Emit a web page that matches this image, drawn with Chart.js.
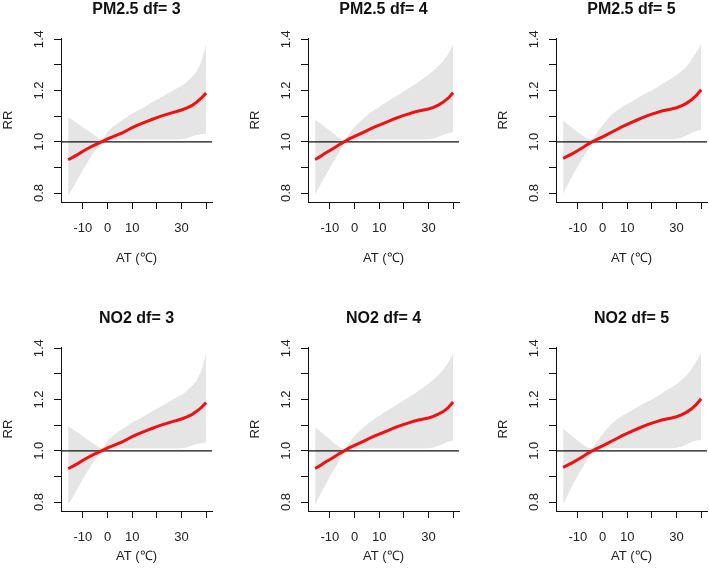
<!DOCTYPE html>
<html><head><meta charset="utf-8">
<script src="https://cdn.jsdelivr.net/npm/chart.js@4/dist/chart.umd.min.js"></script>
<style>
html,body{margin:0;padding:0;background:#fff;overflow:hidden;width:709px;height:577px;}
#wrap{position:relative;width:709px;height:577px;overflow:hidden;background:#fff;}
canvas{position:absolute;}
</style></head><body><div id="wrap"></div>
<script>
// ---- data ----
const temps = [-16,-14,-12,-10,-8,-6,-4,-2,0,2,4,6,8,10,12,14,16,18,20,22,24,26,28,30,32,34,36,38,40];

const pm25Df3RR = [0.930,0.940,0.951,0.963,0.974,0.984,0.993,1.002,1.011,1.019,1.027,1.035,1.045,1.055,1.064,1.072,1.080,1.087,1.094,1.101,1.107,1.113,1.118,1.124,1.131,1.140,1.153,1.170,1.190];
const pm25Df3Hi = [1.096,1.083,1.070,1.057,1.043,1.030,1.017,1.008,1.040,1.058,1.072,1.085,1.098,1.110,1.120,1.131,1.142,1.153,1.164,1.175,1.186,1.197,1.208,1.218,1.232,1.250,1.272,1.310,1.380];
const pm25Df3Lo = [0.788,0.822,0.856,0.890,0.922,0.952,0.979,0.997,1.004,1.007,1.009,1.009,1.009,1.009,1.009,1.009,1.009,1.009,1.009,1.009,1.009,1.009,1.009,1.010,1.013,1.020,1.026,1.029,1.031];

const pm25Df4RR = [0.931,0.942,0.955,0.966,0.978,0.990,1.001,1.012,1.021,1.030,1.039,1.048,1.057,1.065,1.073,1.081,1.089,1.096,1.103,1.109,1.115,1.120,1.124,1.128,1.134,1.143,1.155,1.170,1.191];
const pm25Df4Hi = [1.086,1.072,1.058,1.043,1.028,1.014,1.006,1.035,1.058,1.077,1.094,1.110,1.124,1.136,1.149,1.161,1.173,1.185,1.197,1.209,1.221,1.234,1.248,1.262,1.278,1.295,1.316,1.343,1.380];
const pm25Df4Lo = [0.793,0.829,0.865,0.899,0.932,0.964,0.995,1.003,1.006,1.008,1.009,1.009,1.009,1.009,1.009,1.009,1.009,1.009,1.009,1.009,1.009,1.009,1.009,1.010,1.013,1.019,1.027,1.033,1.036];

const pm25Df5RR = [0.935,0.945,0.955,0.966,0.978,0.990,1.001,1.010,1.019,1.029,1.039,1.049,1.059,1.068,1.077,1.085,1.093,1.101,1.108,1.114,1.120,1.124,1.128,1.133,1.140,1.150,1.163,1.180,1.203];
const pm25Df5Hi = [1.083,1.067,1.052,1.038,1.024,1.012,1.010,1.040,1.065,1.088,1.108,1.124,1.137,1.147,1.158,1.170,1.181,1.191,1.200,1.212,1.224,1.236,1.247,1.260,1.275,1.293,1.318,1.348,1.381];
const pm25Df5Lo = [0.797,0.835,0.872,0.905,0.937,0.968,0.996,1.004,1.007,1.009,1.010,1.010,1.010,1.010,1.010,1.010,1.010,1.010,1.010,1.010,1.010,1.010,1.010,1.012,1.016,1.024,1.034,1.042,1.048];

const no2Df3RR = [0.930,0.940,0.951,0.963,0.974,0.984,0.993,1.002,1.011,1.019,1.027,1.035,1.045,1.055,1.064,1.072,1.080,1.087,1.094,1.101,1.107,1.113,1.118,1.124,1.131,1.140,1.153,1.168,1.188];
const no2Df3Hi = [1.096,1.083,1.070,1.057,1.043,1.030,1.017,1.008,1.040,1.058,1.072,1.085,1.098,1.110,1.120,1.131,1.142,1.153,1.164,1.175,1.186,1.197,1.208,1.218,1.232,1.250,1.272,1.310,1.380];
const no2Df3Lo = [0.788,0.822,0.856,0.890,0.922,0.952,0.979,0.997,1.004,1.007,1.009,1.009,1.009,1.009,1.009,1.009,1.009,1.009,1.009,1.009,1.009,1.009,1.009,1.010,1.013,1.020,1.026,1.029,1.031];

const no2Df4RR = [0.931,0.942,0.955,0.966,0.978,0.990,1.001,1.012,1.021,1.030,1.039,1.048,1.057,1.065,1.073,1.081,1.089,1.096,1.103,1.109,1.115,1.120,1.124,1.128,1.134,1.143,1.153,1.168,1.190];
const no2Df4Hi = [1.092,1.076,1.060,1.044,1.028,1.014,1.006,1.035,1.058,1.077,1.094,1.110,1.124,1.136,1.149,1.161,1.173,1.185,1.197,1.209,1.221,1.234,1.248,1.262,1.278,1.295,1.316,1.343,1.380];
const no2Df4Lo = [0.790,0.827,0.864,0.899,0.932,0.964,0.995,1.003,1.006,1.008,1.009,1.009,1.009,1.009,1.009,1.009,1.009,1.009,1.009,1.009,1.009,1.009,1.009,1.010,1.013,1.019,1.027,1.035,1.040];

const no2Df5RR = [0.935,0.945,0.955,0.966,0.978,0.990,1.001,1.010,1.019,1.029,1.039,1.049,1.059,1.068,1.077,1.085,1.093,1.101,1.108,1.114,1.120,1.124,1.128,1.133,1.140,1.150,1.163,1.180,1.203];
const no2Df5Hi = [1.087,1.070,1.054,1.039,1.025,1.012,1.010,1.040,1.065,1.088,1.108,1.124,1.137,1.147,1.158,1.170,1.181,1.191,1.200,1.212,1.224,1.236,1.247,1.260,1.275,1.293,1.318,1.348,1.381];
const no2Df5Lo = [0.790,0.830,0.869,0.904,0.937,0.968,0.996,1.004,1.007,1.009,1.010,1.010,1.010,1.010,1.010,1.010,1.010,1.010,1.010,1.010,1.010,1.010,1.010,1.012,1.016,1.024,1.034,1.040,1.042];

const panelTitles = ['PM2.5 df= 3','PM2.5 df= 4','PM2.5 df= 5','NO2 df= 3','NO2 df= 4','NO2 df= 5'];
const yTickLabels = [0.8, 1.0, 1.2, 1.4];
const xTickLabels = [-10, 0, 10, 30];
const refRR = 1.0;
const xTitleText = 'AT (℃)';
const yTitleText = 'RR';

// ---- layout / style ----
const FONT = '"Liberation Sans", Arial, Helvetica, sans-serif';
const X_MIN = -18.9, X_MAX = 42.4, Y_MIN = 0.765, Y_MAX = 1.405;
const COL_LEFT = [0, 247, 495];
const ROW_TOP = [0, 309];
const ROW_H = [300, 268];
const XTITLE_PAD = [34.2, 12.5];
const CANVAS_W = 247;
const AXIS_BOTTOM = 202;
const AXIS_LEFT = 61;

const series = [
  [pm25Df3RR, pm25Df3Lo, pm25Df3Hi],
  [pm25Df4RR, pm25Df4Lo, pm25Df4Hi],
  [pm25Df5RR, pm25Df5Lo, pm25Df5Hi],
  [no2Df3RR, no2Df3Lo, no2Df3Hi],
  [no2Df4RR, no2Df4Lo, no2Df4Hi],
  [no2Df5RR, no2Df5Lo, no2Df5Hi]
];

function pts(arr){ return temps.map((t,i)=>({x:t, y:arr[i]})); }

const yLabelPlugin = {
  id: 'yRotLabels',
  afterDraw(chart){
    const ys = chart.scales.y, ctx = chart.ctx;
    ctx.save();
    ctx.fillStyle = '#222';
    ctx.font = '13px ' + FONT;
    ctx.textAlign = 'center';
    ctx.textBaseline = 'middle';
    yTickLabels.forEach(v => {
      const y = ys.getPixelForValue(v);
      ctx.save();
      ctx.translate(chart.chartArea.left - 22, y);
      ctx.rotate(-Math.PI/2);
      ctx.fillText(v.toFixed(1), 0, 0);
      ctx.restore();
    });
    ctx.restore();
  }
};

const wrap = document.getElementById('wrap');
series.forEach((s, idx) => {
  const row = Math.floor(idx / 3), col = idx % 3;
  const H = ROW_H[row];
  const cv = document.createElement('canvas');
  cv.width = CANVAS_W; cv.height = H;
  cv.style.width = CANVAS_W + 'px'; cv.style.height = H + 'px';
  cv.style.left = COL_LEFT[col] + 'px'; cv.style.top = ROW_TOP[row] + 'px';
  wrap.appendChild(cv);
  const [rr, lo, hi] = s;
  const axisCommon = {
    grid: {display: true, drawOnChartArea: false, drawTicks: true, tickLength: 7, color: '#111', lineWidth: 1},
    border: {display: true, color: '#111', width: 1}
  };
  new Chart(cv, {
    type: 'line',
    data: {
      datasets: [
        {data: pts(rr), borderColor: '#f01010', borderWidth: 3, pointRadius: 0, fill: false, tension: 0},
        {data: [{x: X_MIN, y: refRR}, {x: X_MAX, y: refRR}], borderColor: '#111', borderWidth: 1.2, pointRadius: 0, fill: false},
        {data: pts(hi), borderWidth: 0, borderColor: 'rgba(0,0,0,0)', pointRadius: 0, fill: '+1', backgroundColor: '#e5e5e5', tension: 0},
        {data: pts(lo), borderWidth: 0, borderColor: 'rgba(0,0,0,0)', pointRadius: 0, fill: false, tension: 0}
      ]
    },
    options: {
      responsive: false, animation: false, devicePixelRatio: 1,
      layout: {padding: {left: 0, right: CANVAS_W - AXIS_LEFT - 151, top: 0, bottom: 0}},
      plugins: {
        legend: {display: false}, tooltip: {enabled: false},
        title: {display: true, fullSize: false, text: panelTitles[idx], color: '#111',
          font: {family: FONT, size: 16, weight: 'bold', lineHeight: 1.2},
          padding: {top: 0, bottom: 18.8}}
      },
      scales: {
        x: Object.assign({
          type: 'linear', min: X_MIN, max: X_MAX,
          afterFit: sc => { sc.height = H - AXIS_BOTTOM; },
          ticks: {stepSize: 10, includeBounds: false, autoSkip: false, maxRotation: 0, minRotation: 0, padding: 12,
            color: '#222', font: {family: FONT, size: 13},
            callback: v => xTickLabels.includes(Math.round(v)) ? String(Math.round(v)) : ''},
          title: {display: true, text: xTitleText, color: '#222', font: {family: FONT, size: 13},
            padding: {top: 0, bottom: XTITLE_PAD[row]}}
        }, axisCommon),
        y: Object.assign({
          type: 'linear', min: Y_MIN, max: Y_MAX,
          afterFit: sc => { sc.width = AXIS_LEFT; },
          ticks: {display: false, stepSize: 0.1, includeBounds: false},
          title: {display: true, text: yTitleText, color: '#222', font: {family: FONT, size: 13},
            padding: {top: 1, bottom: 0}}
        }, axisCommon)
      }
    },
    plugins: [yLabelPlugin]
  });
});
</script>
</body></html>
